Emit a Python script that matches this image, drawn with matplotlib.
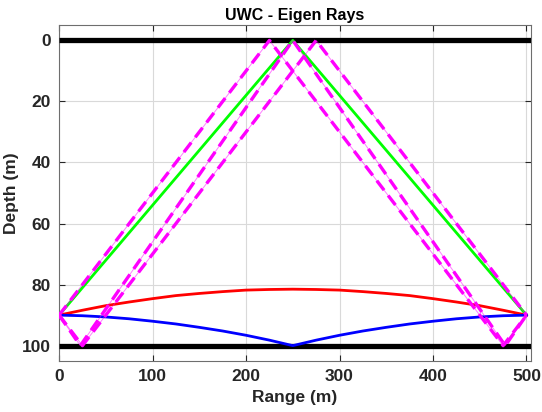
import matplotlib
matplotlib.use("Agg")
import matplotlib.pyplot as plt

plt.rcParams['font.family'] = ['Liberation Sans', 'DejaVu Sans']

# Boundaries
surface_depth = 0
bottom_depth = 100
range_max = 505

# Direct path (red)
red_x = [0, 25, 50, 75, 100, 125, 150, 175, 200, 225, 250, 275, 300, 325, 350, 375, 400, 425, 450, 475, 500]
red_z = [90, 88.4, 86.9, 85.7, 84.6, 83.6, 82.9, 82.3, 81.8, 81.6, 81.5, 81.6, 81.8, 82.3, 82.9, 83.6, 84.6, 85.7, 86.9, 88.4, 90]

# Bottom reflected path (blue)
blue_x = [0, 25, 50, 75, 100, 125, 150, 175, 200, 225, 250, 275, 300, 325, 350, 375, 400, 425, 450, 475, 500]
blue_z = [90, 90.2, 90.6, 91.2, 92.0, 92.9, 94.0, 95.2, 96.6, 98.2, 100, 98.2, 96.6, 95.2, 94.0, 92.9, 92.0, 91.2, 90.6, 90.2, 90]

# Surface reflected path (green)
green_x = [0, 250, 500]
green_z = [90, 0, 90]

# Multi-bounce paths (magenta dashed)
mag1_x = [0, 225, 475, 500]
mag1_z = [90, 0, 100, 90]
mag2_x = [0, 25, 275, 500]
mag2_z = [90, 100, 0, 90]
mag3_x = [0, 22.7, 250, 477.3, 500]
mag3_z = [90, 100, 0, 100, 90]

fig = plt.figure(figsize=(5.42, 4.12), dpi=100)
ax = fig.add_axes([0.109, 0.124, 0.871, 0.815])

ax.grid(True, color='#d9d9d9', linewidth=0.8, zorder=0)
ax.set_axisbelow(True)

ax.plot([0, range_max], [surface_depth, surface_depth], color='black', lw=3.8, solid_capstyle='butt', zorder=3)
ax.plot([0, range_max], [bottom_depth, bottom_depth], color='black', lw=3.8, solid_capstyle='butt', zorder=3)

ax.plot(green_x, green_z, color=(0, 1, 0), lw=2.0, zorder=4)
ax.plot(red_x, red_z, color=(1, 0, 0), lw=2.0, zorder=4)
ax.plot(blue_x, blue_z, color=(0, 0, 1), lw=2.0, zorder=4)

for mx, mz in [(mag1_x, mag1_z), (mag2_x, mag2_z), (mag3_x, mag3_z)]:
    ax.plot(mx, mz, color=(1, 0, 1), lw=0.7, alpha=0.5, zorder=5)
    ax.plot(mx, mz, color=(1, 0, 1), lw=2.4, dashes=[3.6, 2.0], zorder=5)

ax.set_xlim(0, range_max)
ax.set_ylim(105, -5)
ax.set_xticks([0, 100, 200, 300, 400, 500])
ax.set_yticks([0, 20, 40, 60, 80, 100])

ax.tick_params(direction='in', top=True, right=True, length=4, width=0.8,
               labelsize=12.5, colors='#262626', pad=6)
for lab in ax.get_xticklabels() + ax.get_yticklabels():
    lab.set_fontweight('bold')
    lab.set_color('#262626')
for sp in ax.spines.values():
    sp.set_color('#6e6e6e')
    sp.set_linewidth(0.8)

ax.set_xlabel('Range (m)', fontsize=12.5, fontweight='bold', color='#262626', labelpad=4)
ax.set_ylabel('Depth (m)', fontsize=12.5, fontweight='bold', color='#262626', labelpad=2)
ax.set_title('UWC - Eigen Rays', fontsize=11.5, fontweight='bold', color='black', pad=4)

fig.savefig('out.png', dpi=100)
